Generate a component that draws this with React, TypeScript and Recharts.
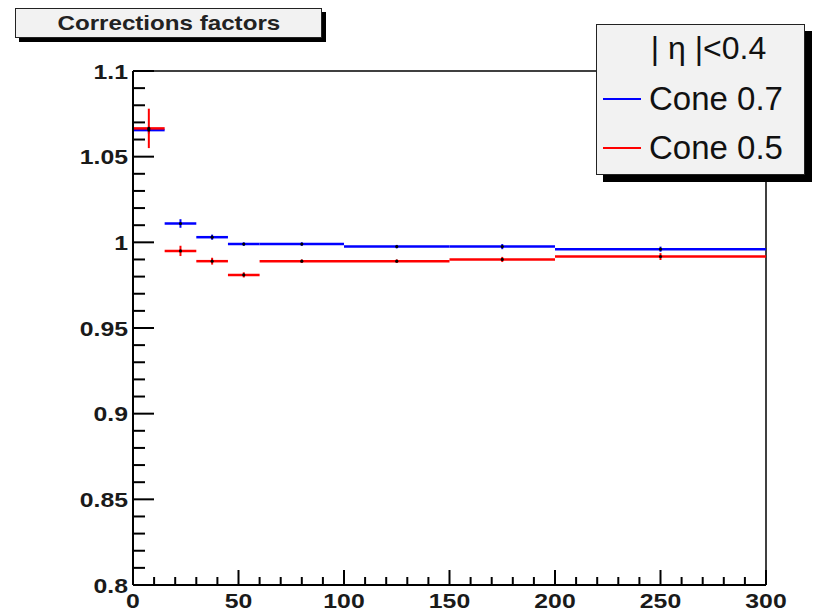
import { ScatterChart, Scatter, XAxis, YAxis, ErrorBar, ReferenceLine, Legend } from 'recharts';

// bin edges (GeV) and correction factor per bin
const binLow = [0, 15, 30, 45, 60, 100, 150, 200];
const binHigh = [15, 30, 45, 60, 100, 150, 200, 300];
const cone07 = [1.0655, 1.011, 1.003, 0.999, 0.999, 0.9975, 0.9975, 0.996];
const cone07Err = [0.002, 0.0025, 0.0015, 0.001, 0.001, 0.001, 0.0015, 0.0015];
const cone05 = [1.0665, 0.995, 0.989, 0.981, 0.989, 0.989, 0.990, 0.9917];
const cone05Err = [0.0115, 0.003, 0.002, 0.0015, 0.001, 0.001, 0.0015, 0.002];

const xMajor = [0, 50, 100, 150, 200, 250, 300];
const yMajor = [0.8, 0.85, 0.9, 0.95, 1, 1.05, 1.1];

const seriesNames = ['Cone 0.7', 'Cone 0.5'];
const seriesColors = ['#0000ff', '#ff0000'];

const withMinor = (major: number[], n: number) => {
  const out: number[] = [];
  for (let i = 0; i < major.length - 1; i++) {
    const step = (major[i + 1] - major[i]) / n;
    for (let k = 0; k < n; k++) out.push(+(major[i] + k * step).toFixed(4));
  }
  out.push(major[major.length - 1]);
  return out;
};
const isMajor = (major: number[], v: number) => major.some((m) => Math.abs(m - v) < 1e-9);

const toPoints = (vals: number[], errs: number[]) =>
  vals.map((v, i) => ({
    x: (binLow[i] + binHigh[i]) / 2,
    y: v,
    xe: (binHigh[i] - binLow[i]) / 2,
    ye: errs[i],
  }));

const font = '"Liberation Sans", Arial, sans-serif';

// ticks point into the frame, like a ROOT canvas
const YTick = (props: any) => {
  const { x, y, payload } = props;
  const major = isMajor(yMajor, payload.value);
  return (
    <g>
      <path d={`M${x},${y}H${x + (major ? 21 : 12)}`} stroke="#000" strokeWidth={2} fill="none" />
      {major && (
        <text
          transform={`translate(${x - 5},${y}) scale(1.18,1)`}
          textAnchor="end"
          dy="0.36em"
          fontSize={21}
          fontWeight="bold"
          fontFamily={font}
          fill="#1a1a1a"
        >
          {String(Number(payload.value.toFixed(2)))}
        </text>
      )}
    </g>
  );
};

const XTick = (props: any) => {
  const { x, y, payload } = props;
  const major = isMajor(xMajor, payload.value);
  return (
    <g>
      <path d={`M${x},${y}V${y - (major ? 15 : 8)}`} stroke="#000" strokeWidth={2} fill="none" />
      {major && (
        <text
          transform={`translate(${x},${y + 23}) scale(1.18,1)`}
          textAnchor="middle"
          fontSize={21}
          fontWeight="bold"
          fontFamily={font}
          fill="#1a1a1a"
        >
          {payload.value}
        </text>
      )}
    </g>
  );
};

const LegendBox = () => (
  <div
    style={{
      width: 207,
      height: 149,
      background: '#f2f2f2',
      border: '1.5px solid #222',
      boxShadow: '7px 7px 0 #000',
      fontFamily: font,
      color: '#111',
      position: 'relative',
    }}
  >
    <div style={{ position: 'absolute', left: 8, width: 207, top: 5, textAlign: 'center', fontSize: 32 }}>
      |&nbsp;η&nbsp;|&lt;0.4
    </div>
    {seriesNames.map((name, i) => (
      <div key={name} style={{ position: 'absolute', left: 6, top: 55 + i * 49, display: 'flex', alignItems: 'center' }}>
        <div style={{ width: 38, height: 2, background: seriesColors[i], marginRight: 8 }} />
        <span style={{ fontSize: 33 }}>{name}</span>
      </div>
    ))}
  </div>
);

const Dot = (props: any) => <circle cx={props.cx} cy={props.cy} r={1.6} fill="#000" />;

export default function App() {
  const series = [toPoints(cone07, cone07Err), toPoints(cone05, cone05Err)];
  return (
    <div style={{ position: 'absolute', left: 0, top: 0, width: 815, height: 613, background: '#fff' }}>
      <ScatterChart width={815} height={613} margin={{ top: 71, right: 49, bottom: 0, left: 0 }}>
        <XAxis
          type="number"
          dataKey="x"
          domain={[0, 300]}
          ticks={withMinor(xMajor, 5)}
          interval={0}
          height={28}
          tickSize={0}
          tickMargin={0}
          tick={<XTick />}
          axisLine={{ stroke: '#000', strokeWidth: 2 }}
          tickLine={false}
        />
        <YAxis
          type="number"
          dataKey="y"
          domain={[0.8, 1.1]}
          allowDataOverflow
          ticks={withMinor(yMajor, 5)}
          interval={0}
          width={133}
          tickSize={0}
          tickMargin={0}
          tick={<YTick />}
          axisLine={{ stroke: '#000', strokeWidth: 2 }}
          tickLine={false}
        />
        <ReferenceLine x={300} stroke="#000" strokeWidth={1.5} />
        <ReferenceLine y={1.1} stroke="#000" strokeWidth={1.5} />
        {series.map((pts, i) => (
          <Scatter key={seriesNames[i]} name={seriesNames[i]} data={pts} shape={<Dot />} isAnimationActive={false}>
            <ErrorBar dataKey="xe" direction="x" width={0} stroke={seriesColors[i]} strokeWidth={2.5} />
            <ErrorBar dataKey="ye" direction="y" width={0} stroke={seriesColors[i]} strokeWidth={2} />
          </Scatter>
        ))}
        <Legend
          layout="vertical"
          align="center"
          verticalAlign="middle"
          content={() => <LegendBox />}
          wrapperStyle={{ left: 596, top: 24, width: 210, height: 152 }}
        />
      </ScatterChart>
      <div
        style={{
          position: 'absolute',
          left: 15,
          top: 8,
          width: 305,
          height: 28,
          background: '#f2f2f2',
          border: '1.5px solid #222',
          boxShadow: '4px 4px 0 #000',
          fontFamily: font,
          fontWeight: 'bold',
          fontSize: 21,
          color: '#222',
          textAlign: 'center',
          lineHeight: '27px',
        }}
      >
        <span style={{ display: 'inline-block', transform: 'scaleX(1.15)' }}>Corrections factors</span>
      </div>
    </div>
  );
}
